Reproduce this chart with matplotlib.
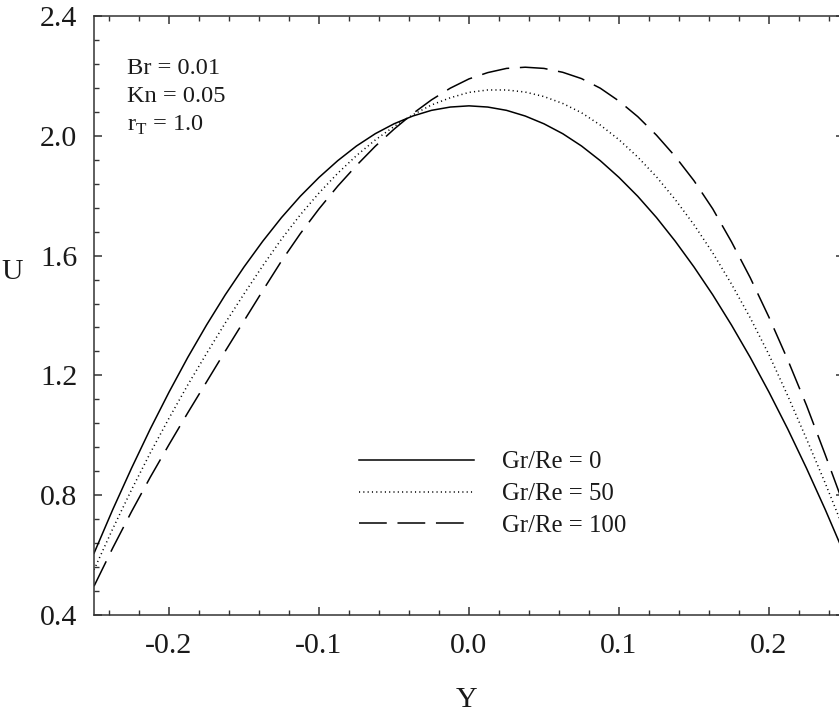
import numpy as np
import matplotlib
matplotlib.use("Agg")
import matplotlib.pyplot as plt
from matplotlib.ticker import MultipleLocator

# --------------------------------------------------------------------------------
# DATA

y_pos = [-0.25, -0.2375, -0.225, -0.2125, -0.2, -0.1875, -0.175, -0.1625, -0.15, -0.1375,
         -0.125, -0.1125, -0.1, -0.0875, -0.075, -0.0625, -0.05, -0.0375, -0.025, -0.0125,
         0.0, 0.0125, 0.025, 0.0375, 0.05, 0.0625, 0.075, 0.0875, 0.1, 0.1125,
         0.125, 0.1375, 0.15, 0.1625, 0.175, 0.1875, 0.2, 0.2125, 0.225, 0.2375, 0.25]

u_gr0 = [0.606, 0.752, 0.890, 1.021, 1.144, 1.260, 1.368, 1.469, 1.562, 1.648,
         1.727, 1.798, 1.861, 1.917, 1.966, 2.007, 2.040, 2.066, 2.085, 2.096,
         2.100, 2.096, 2.085, 2.066, 2.040, 2.007, 1.966, 1.917, 1.861, 1.798,
         1.727, 1.648, 1.562, 1.469, 1.368, 1.260, 1.144, 1.021, 0.890, 0.752, 0.606]

u_gr50 = [0.551, 0.688, 0.818, 0.941, 1.057, 1.168, 1.273, 1.375, 1.472, 1.566,
          1.655, 1.736, 1.809, 1.875, 1.934, 1.986, 2.031, 2.070, 2.103, 2.127,
          2.145, 2.153, 2.153, 2.146, 2.131, 2.108, 2.077, 2.036, 1.987, 1.929,
          1.863, 1.787, 1.703, 1.609, 1.505, 1.392, 1.269, 1.132, 0.988, 0.840, 0.685]

u_gr100 = [0.496, 0.624, 0.745, 0.860, 0.969, 1.075, 1.178, 1.281, 1.382, 1.483,
           1.582, 1.673, 1.756, 1.832, 1.901, 1.965, 2.022, 2.074, 2.120, 2.159,
           2.190, 2.211, 2.225, 2.229, 2.225, 2.212, 2.191, 2.159, 2.116, 2.064,
           2.002, 1.931, 1.850, 1.756, 1.646, 1.526, 1.394, 1.252, 1.100, 0.935, 0.765]

labels = ["Gr/Re = 0", "Gr/Re = 50", "Gr/Re = 100"]
params = ["Br = 0.01", "Kn = 0.05", r"r$_\mathrm{T}$ = 1.0"]

# --------------------------------------------------------------------------------
# STYLE

plt.rcParams['font.family'] = ['Liberation Serif', 'DejaVu Serif']
plt.rcParams['mathtext.fontset'] = 'custom'
plt.rcParams['mathtext.rm'] = 'Liberation Serif'
plt.rcParams['lines.scale_dashes'] = False

fig = plt.figure(figsize=(8.39, 7.2), dpi=100)
ax = fig.add_axes([94 / 839, 105 / 720, 750 / 839, 599 / 720])

lw = 1.1
ax.plot(y_pos, u_gr0, color='black', lw=lw, label=labels[0])
ax.plot(y_pos, u_gr50, color='black', lw=lw, dashes=(0.8, 2.3), label=labels[1])
ax.plot(y_pos, u_gr100, color='black', lw=lw, dashes=(20.0, 7.7), label=labels[2])

ax.set_xlim(-0.25, 0.25)
ax.set_ylim(0.4, 2.4)
ax.xaxis.set_minor_locator(MultipleLocator(0.02))
ax.yaxis.set_major_locator(MultipleLocator(0.4))
ax.yaxis.set_minor_locator(MultipleLocator(0.08))
ax.set_xticks([-0.2, -0.1, 0.0, 0.1, 0.2])
ax.set_xticklabels(["-0.2", "-0.1", "0.0", "0.1", "0.2"])
ax.set_yticks([0.4, 0.8, 1.2, 1.6, 2.0, 2.4])
ax.set_yticklabels(["0.4", "0.8", "1.2", "1.6", "2.0", "2.4"])

ax.tick_params(which='both', direction='in', top=True, right=True, color='#333333',
               labelcolor='#1a1a1a')
ax.tick_params(which='major', length=5.8, width=1.1, labelsize=21.5, pad=12)
ax.tick_params(axis='x', which='major', pad=13)
ax.tick_params(which='minor', length=3.6, width=1.0)
for s in ax.spines.values():
    s.set_linewidth(1.1)
    s.set_color('#333333')

ax.set_xlabel("Y", fontsize=21.5, color='#1a1a1a')
ax.set_ylabel("U", fontsize=21.5, rotation=0, color='#1a1a1a')
ax.yaxis.set_label_coords((12 - 94) / 750, (615 - 272) / 599)
ax.xaxis.set_label_coords((467 - 94) / 750, -(700 - 615) / 599)
ax.xaxis.label.set_va('center')
ax.yaxis.label.set_va('center')
ax.yaxis.label.set_ha('center')

for i, t in enumerate(params):
    ax.text((127 - 94) / 750, (615 - 68 - 28.5 * i) / 599, t, fontsize=17.6,
            ha='left', va='center', transform=ax.transAxes, color='#1a1a1a')

leg = ax.legend(loc='center left', bbox_to_anchor=((359 - 94) / 750, (615 - 494) / 599),
                frameon=False, fontsize=17.8, handlelength=4.66, handletextpad=1.14,
                labelspacing=0.38, borderpad=0, borderaxespad=0)
for t in leg.get_texts():
    t.set_color('#1a1a1a')

fig.savefig("out.png", dpi=100)
